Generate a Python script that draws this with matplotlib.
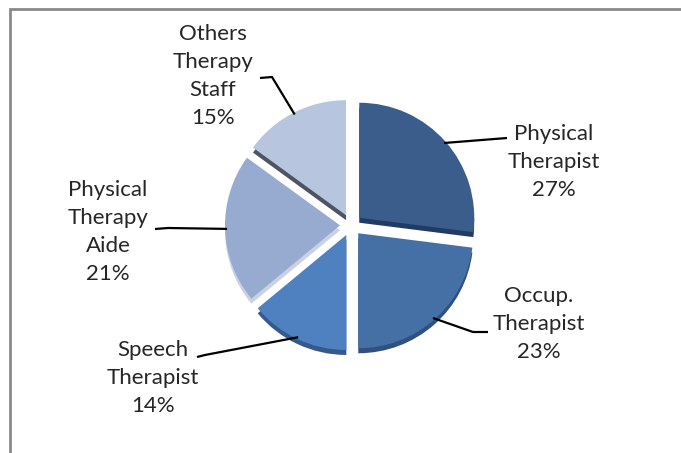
import matplotlib
matplotlib.use('Agg')
import matplotlib.pyplot as plt
import numpy as np

# data
labels = ['Physical\nTherapist', 'Occup.\nTherapist', 'Speech\nTherapist',
          'Physical\nTherapy\nAide', 'Others\nTherapy\nStaff']
shares = [27, 23, 14, 21, 15]

colors = ['#3b5d8c', '#4470a6', '#4f80bf', '#97aad0', '#b8c5de']
depth_colors = ['#203c66', '#2f5080', '#35598c', '#c9d1e3', '#4d5463']

# label layout (pixel coords, y from top)
label_xy = [(554, 162), (539, 324), (153, 378), (108, 232), (213, 76)]
leader_end = [(507, 138), (488, 332), (197, 357), (155, 229), (260, 78)]
leader_elbow = [(507, 138), (473, 332), (205, 355), (168, 228), (272, 77)]

W, H = 681, 453
fig = plt.figure(figsize=(W / 100, H / 100), dpi=100)
ax = fig.add_axes([0, 0, 1, 1])

cx, cy, r = 351, H - 225, 115
explode = [11] * len(shares)   # pie() offsets in data units (= pixels here)

# depth of the 3d pie, drawn a little lower
ax.pie(shares, colors=depth_colors, startangle=90, counterclock=False,
       explode=explode, radius=r, center=(cx, cy - 5), frame=True,
       wedgeprops=dict(linewidth=0, zorder=1))
wedges, _ = ax.pie(shares, colors=colors, startangle=90, counterclock=False,
                   explode=explode, radius=r, center=(cx, cy), frame=True,
                   wedgeprops=dict(linewidth=0, zorder=2))
ax.set_xlim(0, W)
ax.set_ylim(0, H)
ax.set_aspect('equal')
ax.axis('off')

for w, lab, v, txy, end, elb in zip(wedges, labels, shares, label_xy,
                                     leader_end, leader_elbow):
    a = np.deg2rad((w.theta1 + w.theta2) / 2)
    wx, wy = w.center
    px = wx + (w.r - 2) * np.cos(a)
    py = wy + (w.r - 2) * np.sin(a)
    ax.plot([px, elb[0], end[0]], [py, H - elb[1], H - end[1]],
            color='black', lw=1.6, zorder=3, solid_capstyle='butt')
    ax.text(txy[0], H - txy[1], lab + '\n' + '{}%'.format(v), ha='center',
            va='center', fontsize=16, family='Lato', color='#262626',
            linespacing=1.5, zorder=4)

# chart frame
ax.plot([10, 10, W + 20], [-20, H - 9, H - 9], color='#8a8a8a', lw=2,
        solid_joinstyle='miter')

fig.savefig('out.png', dpi=100)
